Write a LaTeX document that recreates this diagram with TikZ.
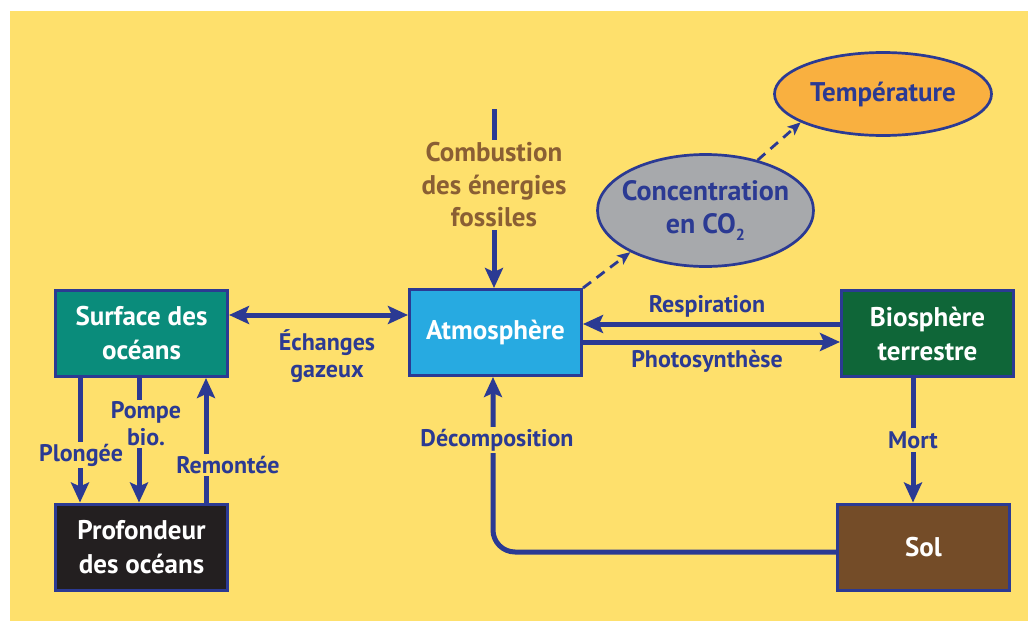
\documentclass[tikz,border=0pt]{standalone}
\usepackage{fontspec}
\setmainfont{PT Sans}
\usetikzlibrary{arrows.meta,shapes.geometric,calc}
\definecolor{bgyellow}{HTML}{FEE06C}
\definecolor{dblue}{HTML}{2B3A93}
\definecolor{surfteal}{HTML}{0A8C7B}
\definecolor{deepdark}{HTML}{231F20}
\definecolor{skyblue}{HTML}{27AAE1}
\definecolor{dgreen}{HTML}{0F6638}
\definecolor{soilbrown}{HTML}{744C28}
\definecolor{cgray}{HTML}{A7A9AC}
\definecolor{torange}{HTML}{F9B040}
\definecolor{fossil}{HTML}{8A5F34}
\tikzset{
  box/.style={draw=dblue, line width=3pt, minimum width=172pt, minimum height=86pt,
    text=white, align=center, inner sep=0pt, font=\fontsize{27}{34}\selectfont\bfseries},
  oval/.style={ellipse, draw=dblue, line width=2.7pt, inner sep=0pt,
    text=dblue, align=center, font=\fontsize{28}{33}\selectfont\bfseries},
  lbl/.style={text=dblue, align=center, inner sep=1pt, font=\fontsize{24}{27}\selectfont\bfseries},
  gap/.style={lbl, fill=bgyellow},
  arr/.style={draw=dblue, line width=5pt, -{Stealth[length=20pt,width=18pt,inset=4pt]}},
  darr/.style={draw=dblue, line width=5pt, {Stealth[length=20pt,width=18pt,inset=4pt]}-{Stealth[length=20pt,width=18pt,inset=4pt]}},
  dasharr/.style={draw=dblue, line width=2.8pt, dash pattern=on 10pt off 7pt, -{Stealth[length=13pt,width=11pt,inset=3pt]}},
}
\begin{document}
\begin{tikzpicture}[x=1pt,y=-1pt]
\useasboundingbox (0,0) rectangle (1028,621);
\fill[white] (0,0) rectangle (1028,621);
\fill[bgyellow] (10,11) rectangle (1028,621);

% boxes
\node[box, fill=surfteal] (surf) at (141.5,333.5) {Surface des\\océans};
\node[box, fill=deepdark] (deep) at (141.5,547) {Profondeur\\des océans};
\node[box, fill=skyblue] (atm) at (495.5,332.5) {Atmosphère};
\node[box, fill=dgreen] (bio) at (927.5,333.5) {Biosphère\\terrestre};
\node[box, fill=soilbrown] (sol) at (923.5,547) {Sol};
\node[oval, fill=cgray, minimum width=216pt, minimum height=112pt, inner xsep=-12pt, inner ysep=-6pt] (conc) at (705.5,210.5)
  {Concentration\\en CO\raisebox{-0.45ex}{\fontsize{16}{16}\selectfont 2}};
\node[oval, fill=torange, minimum width=217pt, minimum height=83pt, font=\fontsize{27}{33}\selectfont\bfseries] (temp) at (883,94) {Température};

% ocean exchanges
\coordinate (xplong) at (80,0);
\coordinate (xpompe) at (139,0);
\coordinate (xrem) at (206,0);
\draw[arr] (surf.south -| xplong) -- (deep.north -| xplong);
\draw[arr] (surf.south -| xpompe) -- (deep.north -| xpompe);
\draw[arr] (deep.north -| xrem) -- (surf.south -| xrem);
\node[gap, inner sep=2pt] (lplong) at (81,455) {Plongée};
\node[gap, inner sep=2pt] (lpompe) at (146,424) {Pompe\\bio.};
\node[gap, inner sep=2pt] (lrem) at (228,465) {Remontée};

% gas exchange
\draw[darr] (surf.east |- 0,315) -- (atm.west |- 0,315);
\node[lbl] (lech) at (327,356) {Échanges\\gazeux};

% combustion
\coordinate (ctop) at (494,109);
\draw[arr] (ctop) -- (ctop |- atm.north);
\node[gap, text=fossil, font=\fontsize{27}{32.5}\selectfont\bfseries, inner sep=3pt] (lcomb) at (494,185)
  {Combustion\\des énergies\\fossiles};

% respiration / photosynthesis
\draw[arr] (bio.west |- 0,324) -- (atm.east |- 0,324);
\draw[arr] (atm.east |- 0,342) -- (bio.west |- 0,342);
\node[lbl] (lresp) at (707,306) {Respiration};
\node[lbl] (lphot) at (707,361) {Photosynthèse};

% mort
\coordinate (xmort) at (913,0);
\draw[arr] (bio.south -| xmort) -- (sol.north -| xmort);
\node[gap, inner sep=3pt] (lmort) at (913,440) {Mort};

% decomposition
\coordinate (xdec) at (493,0);
\draw[arr, rounded corners=22pt] (sol.west |- 0,552) -- (xdec |- 0,552) -- (xdec |- atm.south);
\node[gap, inner sep=2pt] (ldec) at (497,440) {Décomposition};

% dashed causal arrows
\draw[dasharr] (atm.north east) -- (conc.209);
\draw[dasharr] (conc.44) -- (temp.199);
\end{tikzpicture}
\end{document}
